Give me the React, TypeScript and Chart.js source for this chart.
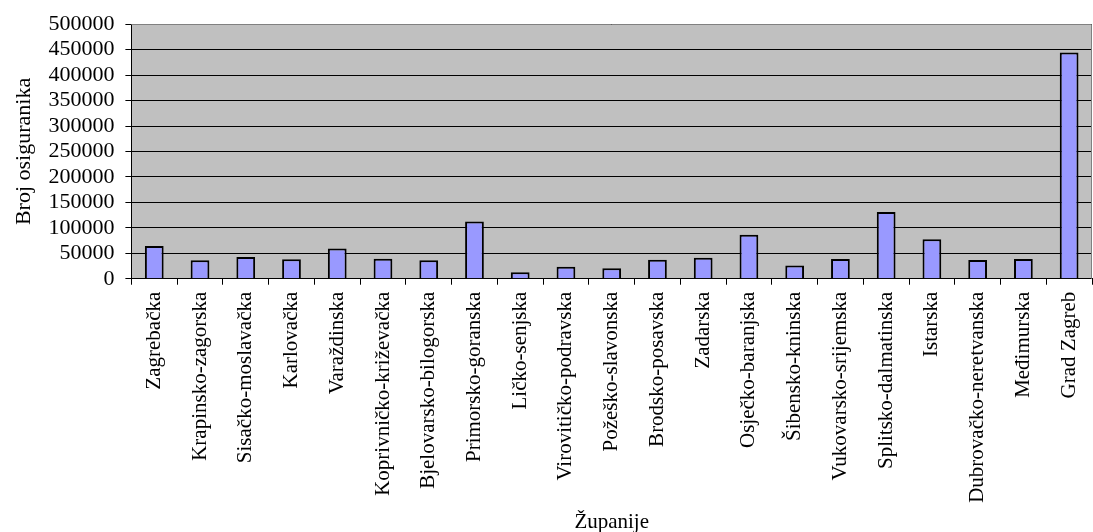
import React, { useEffect, useRef } from "react";
import { Chart, registerables } from "chart.js";

Chart.register(...registerables);

const categories = [
  "Zagrebačka",
  "Krapinsko-zagorska",
  "Sisačko-moslavačka",
  "Karlovačka",
  "Varaždinska",
  "Koprivničko-križevačka",
  "Bjelovarsko-bilogorska",
  "Primorsko-goranska",
  "Ličko-senjska",
  "Virovitičko-podravska",
  "Požeško-slavonska",
  "Brodsko-posavska",
  "Zadarska",
  "Osječko-baranjska",
  "Šibensko-kninska",
  "Vukovarsko-srijemska",
  "Splitsko-dalmatinska",
  "Istarska",
  "Dubrovačko-neretvanska",
  "Međimurska",
  "Grad Zagreb",
];

const osiguranici = [
  64500, 36200, 42600, 38100, 59500, 39400, 36200, 112400, 12900, 23300,
  20700, 37500, 41300, 86600, 25800, 38800, 131200, 77500, 36800, 38800,
  444400,
];

const yTitle = "Broj osiguranika";
const xTitle = "Županije";

const FONT = "'Liberation Serif', 'Times New Roman', serif";

const plotBg = {
  id: "plotBg",
  beforeDraw(chart: any) {
    const { ctx, chartArea } = chart;
    if (!chartArea) return;
    ctx.save();
    ctx.fillStyle = "#C0C0C0";
    ctx.fillRect(
      chartArea.left,
      chartArea.top,
      chartArea.right - chartArea.left,
      chartArea.bottom - chartArea.top
    );
    ctx.restore();
  },
  afterDraw(chart: any) {
    const { ctx, chartArea } = chart;
    if (!chartArea) return;
    ctx.save();
    ctx.strokeStyle = "#808080";
    ctx.lineWidth = 1;
    ctx.beginPath();
    ctx.moveTo(chartArea.left, Math.round(chartArea.top) + 0.5);
    ctx.lineTo(Math.round(chartArea.right) - 0.5, Math.round(chartArea.top) + 0.5);
    ctx.lineTo(Math.round(chartArea.right) - 0.5, chartArea.bottom);
    ctx.stroke();
    ctx.restore();
  },
};

export default function App() {
  const ref = useRef<HTMLCanvasElement | null>(null);

  useEffect(() => {
    if (!ref.current) return;
    const chart = new Chart(ref.current, {
      type: "bar",
      data: {
        labels: categories,
        datasets: [
          {
            data: osiguranici,
            backgroundColor: "#9999FF",
            borderColor: "#000000",
            borderWidth: 2,
            barPercentage: 0.41,
            categoryPercentage: 1,
          },
        ],
      },
      plugins: [plotBg],
      options: {
        animation: false,
        responsive: false,
        maintainAspectRatio: false,
        layout: {
          autoPadding: false,
          padding: { top: 21, right: 1, left: 5, bottom: -3 },
        },
        plugins: {
          legend: { display: false },
          tooltip: { enabled: false },
        },
        scales: {
          x: {
            offset: true,
            afterFit: (s: any) => {
              s.paddingRight = 0;
              if (s._margins) s._margins.right = 1;
            },
            grid: {
              offset: true,
              drawOnChartArea: false,
              drawTicks: true,
              tickLength: 6,
              color: "#000000",
            },
            border: { color: "#000000", width: 1 },
            ticks: {
              autoSkip: false,
              maxRotation: 90,
              minRotation: 90,
              padding: 7,
              color: "#000000",
              font: { family: FONT, size: 21 },
            },
            title: {
              display: true,
              text: xTitle,
              color: "#000000",
              font: { family: FONT, size: 21 },
              padding: { top: 0, bottom: 0 },
            },
          },
          y: {
            min: 0,
            max: 500000,
            grid: {
              color: "#000000",
              lineWidth: 1,
              drawTicks: true,
              tickLength: 6,
              tickColor: "#000000",
            },
            border: { color: "#000000", width: 1 },
            ticks: {
              stepSize: 50000,
              autoSkip: false,
              padding: 11,
              color: "#000000",
              font: { family: FONT, size: 22 },
              callback: (v: any) => String(v),
            },
            title: {
              display: true,
              text: yTitle,
              color: "#000000",
              font: { family: FONT, size: 22 },
              padding: { top: 6, bottom: 0 },
            },
          },
        },
      },
    });
    return () => chart.destroy();
  }, []);

  return (
    <div style={{ position: "fixed", left: 0, top: 0, width: 1093, height: 532, background: "#fff" }}>
      <canvas ref={ref} width={1093} height={532} style={{ width: 1093, height: 532 }} />
    </div>
  );
}
